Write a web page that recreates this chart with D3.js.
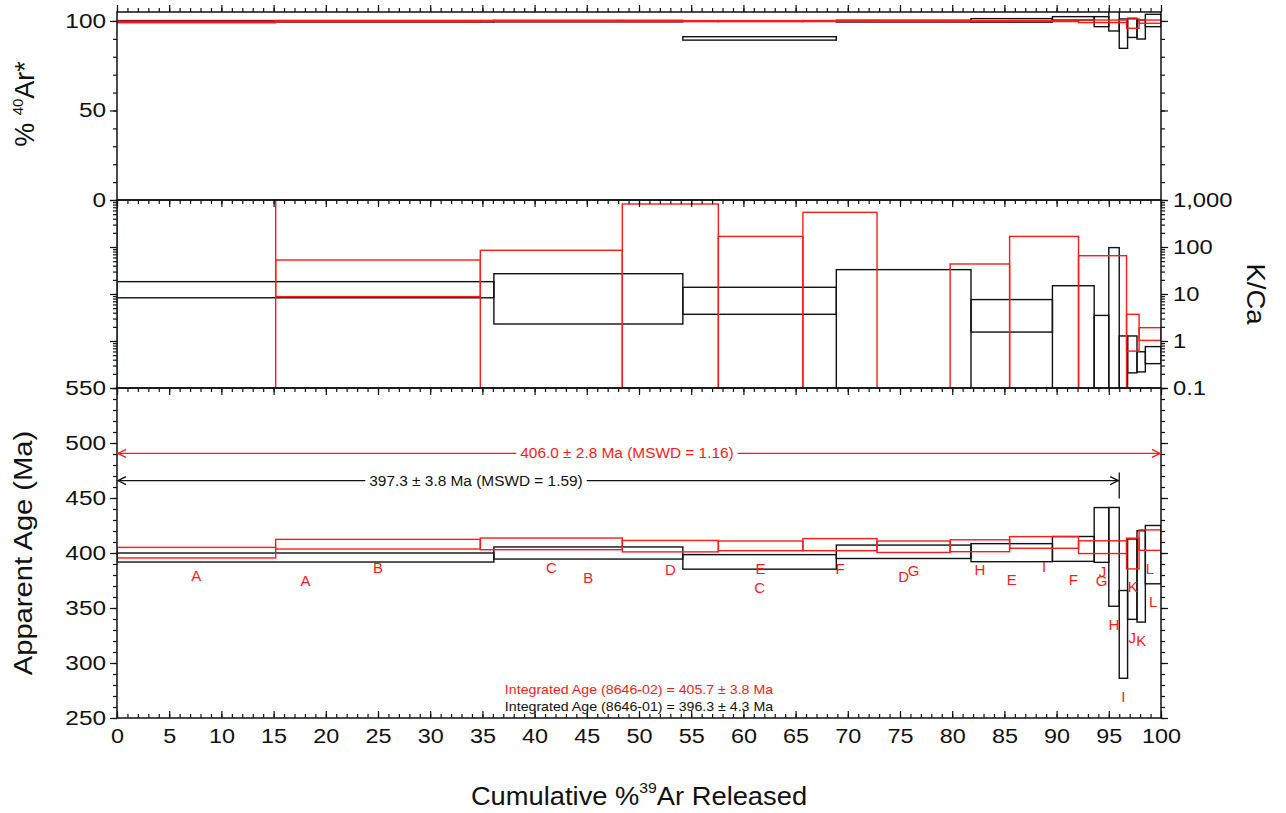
<!DOCTYPE html>
<html>
<head>
<meta charset="utf-8">
<script src="https://d3js.org/d3.v7.min.js"></script>
<style>
  body { margin:0; background:#fff; }
  svg text { font-family: "Liberation Sans", Arial, Helvetica, sans-serif; }
</style>
</head>
<body>
<svg id="chart" width="1286" height="813"></svg>
<script>
// ---------------- data ----------------
const stepNames = ["A","B","C","D","E","F","G","H","I","J","K","L"];

// sample 8646-01 (black)
const cumBlack    = [0, 36.1, 54.2, 68.9, 81.8, 89.6, 93.6, 95.0, 96.0, 96.8, 97.7, 98.5, 100];
const ageBlack    = [395.9, 400.0, 391.9, 401.1, 400.3, 403.7, 416.4, 396.5, 326.0, 376.2, 378.7, 398.5];
const ageErrBlack = [4.1, 5.5, 6.6, 6.1, 8.2, 11.3, 24.9, 44.9, 39.9, 36.5, 41.5, 26.5];
const kcaBlack    = [13.3, 14.65, 8.8, 16, 4.58, 7.0, 1.5, 45, 0.6, 0.745, 0.405, 0.545];
const kcaErrBlack = [5.0, 12.35, 5.1, 17, 3.03, 8, 2.0, 52, 0.68, 0.535, 0.185, 0.215];
const arBlack     = [99.8, 99.9, 90.25, 99.9, 100.3, 101.45, 99.6, 100.5, 92.9, 96.15, 95.2, 100.25];
const arErrBlack  = [0.4, 0.4, 0.95, 0.5, 1.0, 0.95, 2.8, 6.1, 8.2, 5.35, 5.3, 3.45];

// sample 8646-02 (red)
const cumRed    = [0, 15.2, 34.8, 48.4, 57.6, 65.7, 72.8, 79.8, 85.5, 92.1, 96.7, 97.9, 100];
const ageRed    = [400.3, 408.0, 408.3, 406.2, 406.5, 407.6, 405.7, 406.6, 409.6, 405.3, 399.5, 411.7];
const ageErrRed = [4.8, 4.4, 5.3, 5.2, 4.4, 5.5, 5.2, 5.4, 5.3, 5.8, 14.0, 9.3];
const kcaRed    = [500, 30.85, 40, 400, 80, 260, null, 20, 80, 30, 2.155, 1.475];
const kcaErrRed = [5000, 22.05, 45, 422, 88, 287, null, 23.5, 88, 35.3, 1.545, 0.445];
const arRed     = [99.45, 99.9, 99.95, 99.9, 99.9, 99.95, 99.9, 99.9, 99.95, 99.8, 98.5, 99.6];
const arErrRed  = [0.45, 0.35, 0.3, 0.3, 0.3, 0.3, 0.3, 0.3, 0.3, 0.7, 2.6, 0.9];

// plateau & integrated ages
const plateauText  = ["406.0 \u00b1 2.8 Ma (MSWD = 1.16)", "397.3 \u00b1 3.8 Ma (MSWD = 1.59)"];
const plateauRange = [[0, 100], [0, 96.0]];
const integratedText = ["Integrated Age (8646-02) = 405.7 \u00b1 3.8 Ma",
                        "Integrated Age (8646-01) = 396.3 \u00b1 4.3 Ma"];

const xTickMajor = d3.range(0, 101, 5);
const xTickMinor = d3.range(0, 101, 1);
const arTickMajor = [0, 50, 100];
const arTickMinor = d3.range(0, 101, 10);
const kcaTickMajor = [0.1, 1, 10, 100, 1000];
const ageTickMajor = d3.range(250, 551, 50);
const ageTickMinor = d3.range(250, 551, 10);

// ---------------- layout ----------------
const RED = "#ff1a1a", BLACK = "#111";
const X0 = 117, X1 = 1161;
const P1 = [12, 200], P2 = [200, 388], P3 = [388, 718];

const svg = d3.select("#chart");
const x = d3.scaleLinear().domain([0, 100]).range([X0, X1]);
const yAr = d3.scaleLinear().domain([0, 105]).range([P1[1], P1[0]]);
const yKca = d3.scaleLog().domain([0.1, 1000]).range([P2[1], P2[0]]);
const yAge = d3.scaleLinear().domain([250, 550]).range([P3[1], P3[0]]);

const kcaMinor = [];
for (let e = -1; e < 3; e++) for (let m = 1; m < 10; m++) kcaMinor.push(m * Math.pow(10, e));

const defs = svg.append("defs");
[["c1", P1], ["c2", P2], ["c3", P3]].forEach(([id, p]) => {
  defs.append("clipPath").attr("id", id).append("rect")
    .attr("x", X0).attr("y", p[0]).attr("width", X1 - X0).attr("height", p[1] - p[0]);
});

function stretch(sel, k) {
  sel.each(function () {
    const L = this.getComputedTextLength();
    d3.select(this).attr("textLength", L * k).attr("lengthAdjust", "spacingAndGlyphs");
  });
}

function styleAxis(g) {
  g.select(".domain").remove();
  g.selectAll("line").attr("stroke", BLACK).attr("stroke-width", 1.2);
  g.selectAll("text").attr("font-size", 19.5).attr("fill", BLACK)
    .style("font-family", '"Liberation Sans", Arial, sans-serif');
}

// ---------------- data drawing ----------------
function drawSteps(clip, cum, val, err, yScale, color, isLog) {
  const g = svg.append("g").attr("clip-path", `url(#${clip})`);
  val.forEach((v, i) => {
    if (v === null) return;
    let lo = v - err[i], hi = v + err[i];
    if (isLog && lo <= 0) lo = 0.01;
    const yT = yScale(hi), yB = yScale(lo);
    g.append("rect")
      .attr("x", x(cum[i])).attr("width", x(cum[i + 1]) - x(cum[i]))
      .attr("y", yT).attr("height", Math.max(0.5, yB - yT))
      .attr("fill", "none").attr("stroke", color).attr("stroke-width", 1.4);
  });
}

drawSteps("c1", cumBlack, arBlack, arErrBlack, yAr, BLACK, false);
drawSteps("c1", cumRed, arRed, arErrRed, yAr, RED, false);
drawSteps("c2", cumBlack, kcaBlack, kcaErrBlack, yKca, BLACK, true);
drawSteps("c2", cumRed, kcaRed, kcaErrRed, yKca, RED, true);
drawSteps("c3", cumBlack, ageBlack, ageErrBlack, yAge, BLACK, false);
drawSteps("c3", cumRed, ageRed, ageErrRed, yAge, RED, false);

// ---------------- frames ----------------
[P1, P2, P3].forEach(p => {
  svg.append("rect").attr("x", X0).attr("y", p[0]).attr("width", X1 - X0).attr("height", p[1] - p[0])
    .attr("fill", "none").attr("stroke", BLACK).attr("stroke-width", 1.5);
});

// ---------------- axes ----------------
function xAxisAt(y, dirUp, labels) {
  const mk = dirUp ? d3.axisTop : d3.axisBottom;
  const gMin = svg.append("g").attr("transform", `translate(0,${y})`)
    .call((labels ? d3.axisBottom(x).tickSize(-4) : mk(x).tickSize(4)).tickValues(xTickMinor).tickFormat(""));
  styleAxis(gMin);
  const gMaj = svg.append("g").attr("transform", `translate(0,${y})`)
    .call((labels ? d3.axisBottom(x).tickSize(-7).tickPadding(11) : mk(x).tickSize(7))
      .tickValues(xTickMajor).tickFormat(labels ? d3.format("d") : ""));
  styleAxis(gMaj);
  if (labels) stretch(gMaj.selectAll("text"), 1.2);
}
xAxisAt(P1[0], true, false);
xAxisAt(P2[0], false, false);
xAxisAt(P3[0], false, false);
xAxisAt(P3[1], false, true);

function yAxisPair(scale, minor, major, fmtLeft, fmtRight) {
  const l1 = svg.append("g").attr("transform", `translate(${X0},0)`)
    .call(d3.axisLeft(scale).tickValues(minor).tickSize(4).tickFormat(""));
  styleAxis(l1);
  const l2 = svg.append("g").attr("transform", `translate(${X0},0)`)
    .call(d3.axisLeft(scale).tickValues(major).tickSize(7).tickPadding(4).tickFormat(fmtLeft || (() => "")));
  styleAxis(l2);
  if (fmtLeft) stretch(l2.selectAll("text"), 1.25);
  const r1 = svg.append("g").attr("transform", `translate(${X1},0)`)
    .call(d3.axisRight(scale).tickValues(minor).tickSize(4).tickFormat(""));
  styleAxis(r1);
  const r2 = svg.append("g").attr("transform", `translate(${X1},0)`)
    .call(d3.axisRight(scale).tickValues(major).tickSize(7).tickPadding(5).tickFormat(fmtRight || (() => "")));
  styleAxis(r2);
  if (fmtRight) stretch(r2.selectAll("text"), 1.22);
}
yAxisPair(yAr, arTickMinor, arTickMajor, d3.format("d"), null);
yAxisPair(yKca, kcaMinor, kcaTickMajor, null, v => v >= 1 ? d3.format(",")(v) : String(v));
yAxisPair(yAge, ageTickMinor, ageTickMajor, d3.format("d"), null);

// ---------------- step letters ----------------
function stepLetters(cum, val, err) {
  val.forEach((v, i) => {
    svg.append("text")
      .attr("x", x((cum[i] + cum[i + 1]) / 2))
      .attr("y", yAge(v - err[i]) + 18)
      .attr("text-anchor", "middle").attr("dominant-baseline", "central")
      .attr("font-size", 15).attr("fill", RED).text(stepNames[i]);
  });
}
stepLetters(cumRed, ageRed, ageErrRed);
stepLetters(cumBlack, ageBlack, ageErrBlack);

// ---------------- plateau arrows ----------------
function plateau(ageLevel, range, label, color, labelX, endTick) {
  const y = yAge(ageLevel);
  const xa = x(range[0]), xb = x(range[1]);
  const g = svg.append("g");
  g.append("line").attr("x1", xa).attr("x2", xb).attr("y1", y).attr("y2", y)
    .attr("stroke", color).attr("stroke-width", 1.3);
  g.append("path").attr("d", `M${xa + 9},${y - 4}L${xa + 1},${y}L${xa + 9},${y + 4}`)
    .attr("fill", "none").attr("stroke", color).attr("stroke-width", 1.3);
  g.append("path").attr("d", `M${xb - 9},${y - 4}L${xb - 1},${y}L${xb - 9},${y + 4}`)
    .attr("fill", "none").attr("stroke", color).attr("stroke-width", 1.3);
  if (endTick) {
    g.append("line").attr("x1", xb).attr("x2", xb).attr("y1", y - 8).attr("y2", y + 18)
      .attr("stroke", color).attr("stroke-width", 1.3);
  }
  const bg = g.append("rect").attr("fill", "#fff");
  const t = g.append("text").attr("x", labelX).attr("y", y).attr("text-anchor", "middle")
    .attr("dominant-baseline", "central").attr("font-size", 14).attr("fill", color).text(label);
  stretch(t, 1.1);
  const bb = t.node().getBBox();
  bg.attr("x", bb.x - 4).attr("y", bb.y).attr("width", bb.width + 8).attr("height", bb.height);
}
plateau(490.5, plateauRange[0], plateauText[0], RED, 627, false);
plateau(465.8, plateauRange[1], plateauText[1], BLACK, 476, true);

// ---------------- integrated ages ----------------
svg.append("text").attr("x", 639).attr("y", 689).attr("text-anchor", "middle")
  .attr("dominant-baseline", "central").attr("font-size", 13.5).attr("fill", RED)
  .text(integratedText[0]).call(s => stretch(s, 1.05));
svg.append("text").attr("x", 639).attr("y", 706).attr("text-anchor", "middle")
  .attr("dominant-baseline", "central").attr("font-size", 13.5).attr("fill", BLACK)
  .text(integratedText[1]).call(s => stretch(s, 1.05));

// ---------------- axis titles ----------------
const tAr = svg.append("text").attr("transform", "translate(34,104) rotate(-90)")
  .attr("text-anchor", "middle").attr("font-size", 27).attr("fill", BLACK);
tAr.append("tspan").text("% ");
tAr.append("tspan").attr("font-size", 15).attr("dy", -11).text("40");
tAr.append("tspan").attr("dy", 11).text("Ar*");

svg.append("text").attr("transform", "translate(32,553) rotate(-90)")
  .attr("text-anchor", "middle").attr("font-size", 26).attr("fill", BLACK)
  .text("Apparent Age (Ma)").call(s => stretch(s, 1.12));

svg.append("text").attr("transform", "translate(1247,294) rotate(90)")
  .attr("text-anchor", "middle").attr("font-size", 25).attr("fill", BLACK)
  .text("K/Ca").call(s => stretch(s, 1.1));

const tX = svg.append("text").attr("x", 639).attr("y", 805).attr("text-anchor", "middle")
  .attr("font-size", 26).attr("fill", BLACK);
tX.append("tspan").text("Cumulative %");
tX.append("tspan").attr("font-size", 15).attr("dy", -12).text("39");
tX.append("tspan").attr("dy", 12).text("Ar Released");
tX.call(s => stretch(s, 1.05));
</script>
</body>
</html>
